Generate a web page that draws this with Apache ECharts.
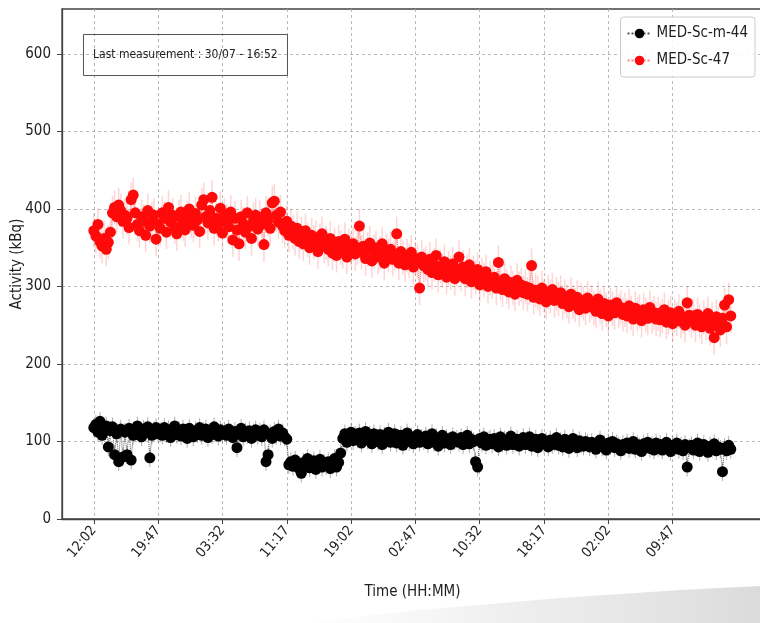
<!DOCTYPE html>
<html>
<head>
<meta charset="utf-8">
<script src="https://cdn.jsdelivr.net/npm/echarts@6/dist/echarts.min.js"></script>
<style>
  html, body { margin: 0; padding: 0; background: #ffffff; }
  #chart { width: 760px; height: 623px; }
</style>
</head>
<body>
<div id="chart"></div>
<script>
// Readings are taken every 15 minutes from 12:02 onwards (x = minutes since first reading)
const stepMinutes = 15;
const tickEveryMinutes = 465;
const tickLabels = ['12:02', '19:47', '03:32', '11:17', '19:02', '02:47', '10:32', '18:17', '02:02', '09:47'];
const yTicks = [0, 100, 200, 300, 400, 500, 600];
const lastMeasurement = 'Last measurement : 30/07 - 16:52';

// MED-Sc-47 activity (kBq), 16 readings per 4-hour row
const sc47 = [
  372, 365, 380, 358, 352, 362, 348, 357, 370, 395, 402, 390, 405, 398, 384, 392,
  388, 376, 412, 418, 395, 380, 372, 390, 384, 366, 398, 378, 387, 392, 361, 380,
  375, 395, 388, 370, 402, 383, 392, 377, 368, 390, 396, 381, 373, 389, 400, 385,
  379, 394, 386, 371, 405, 412, 390, 382, 398, 415, 375, 388, 380, 401, 369, 392,
  384, 377, 396, 360, 388, 373, 355, 390, 381, 370, 395, 378, 362, 386, 392, 374,
  389, 380, 354, 395, 386, 375, 408, 410, 392, 383, 396, 378, 372, 384, 366, 378,
  370, 362, 375, 358, 368, 355, 372, 360, 350, 366, 357, 363, 345, 359, 368, 352,
  356, 348, 362, 343, 354, 340, 358, 350, 345, 361, 338, 352, 347, 355, 342, 350,
  378, 344, 352, 336, 348, 356, 333, 345, 350, 338, 343, 355, 330, 346, 340, 348,
  335, 342, 368, 330, 345, 337, 328, 340, 333, 344, 325, 336, 332, 298, 338, 327,
  330, 322, 335, 318, 328, 340, 315, 326, 320, 332, 312, 324, 318, 329, 310, 322,
  338, 316, 325, 310, 320, 328, 306, 318, 312, 322, 302, 315, 308, 319, 300, 311,
  306, 312, 298, 331, 304, 296, 310, 300, 293, 305, 298, 290, 308, 297, 302, 292,
  300, 290, 298, 327, 286, 295, 292, 284, 298, 288, 280, 293, 287, 296, 282, 290,
  284, 292, 278, 287, 281, 274, 290, 280, 276, 286, 270, 282, 278, 272, 285, 275,
  280, 272, 268, 284, 274, 265, 278, 270, 262, 276, 271, 266, 279, 268, 273, 264,
  270, 262, 275, 266, 258, 272, 264, 268, 256, 270, 263, 259, 273, 261, 266, 258,
  265, 257, 262, 270, 254, 260, 266, 252, 262, 258, 268, 255, 261, 250, 279, 263,
  256, 262, 250, 264, 255, 248, 260, 253, 265, 246, 258, 234, 261, 252, 244, 259,
  276, 248, 283, 262
];

// MED-Sc-m-44 activity (kBq), same timestamps
const scm44 = [
  118, 122, 112, 126, 108, 115, 120,  93, 114, 119,  83, 110,  74, 116,  80, 112,
   83, 117,  76, 108, 114, 120, 110, 106, 116, 112, 119,  79, 108, 114, 118, 110,
  113, 108, 118, 110, 115, 105, 112, 120, 109, 114, 107, 116, 111, 104, 117, 112,
  106, 114, 110, 118, 108, 113, 116, 105, 112, 109, 119, 111, 107, 115, 110, 113,
  108, 116, 111, 105, 113,  92, 110, 117, 106, 112, 109, 114, 104, 111, 115, 108,
  112, 106, 115,  74,  83, 110, 104, 113, 108, 116, 107, 111, 106, 103,  70,  74,
   68,  76,  71,  65,  59,  73,  69,  78,  66,  72,  75,  64,  70,  77,  67,  72,
   69,  74,  65,  71,  78,  67,  73,  85, 104, 110,  99, 107, 112, 101, 108, 104,
  111,  98, 106, 113, 102, 108,  97, 110, 104, 100, 109,  96, 107, 103, 112,  99,
  105, 110,  98, 104, 108,  95, 102, 111, 100, 106,  97, 103, 109,  99, 104, 101,
  107,  97, 103, 110,  99, 105,  94, 102, 108,  98, 104, 100,  96, 106, 101, 103,
   99, 105,  96, 102, 108,  97, 103, 100,  74,  67, 104,  98, 106,  95, 101, 103,
   97, 104, 100,  93, 106,  98, 102,  95, 101, 107,  96,  99, 103,  94, 100, 105,
   96, 101, 106,  94,  99, 103,  92,  98, 104,  97, 100,  93, 102,  96,  99, 105,
   95, 100,  93, 103,  97,  91,  99, 104,  96,  92, 101,  97,  94, 100,  98,  93,
   99,  94,  90,  97, 102,  93,  96,  89,  98,  95, 100,  92,  97,  94,  88,  96,
   93,  98,  91,  95, 100,  90,  96,  93,  87,  97,  94,  99,  91,  95,  89,  98,
   92,  96,  89,  94,  99,  91,  87,  95,  93,  98,  90,  94,  88,  96,  67,  92,
   95,  89,  93,  98,  87,  92,  96,  90,  86,  94,  91,  97,  88,  93,  90,  61,
   92,  88,  95,  90
];

// Measurement uncertainty (kBq) shown as vertical bars
const sc47Err = 22;
const scm44Err = 12;

const FONT = "'DejaVu Sans Condensed', 'Liberation Sans Narrow', 'DejaVu Sans', sans-serif";

const toPoints = (vals) => vals.map((v, i) => [i * stepMinutes, v]);
const toErrPoints = (vals, e) => vals.map((v, i) => [i * stepMinutes, v, e]);

const xTickValues = tickLabels.map((_, i) => i * tickEveryMinutes);

function errorBars(color, width) {
  return function (params, api) {
    const x = api.value(0), y = api.value(1), e = api.value(2);
    const hi = api.coord([x, y + e]);
    const lo = api.coord([x, y - e]);
    return {
      type: 'line',
      shape: { x1: hi[0], y1: hi[1], x2: lo[0], y2: lo[1] },
      style: { stroke: color, lineWidth: width }
    };
  };
}

const chart = echarts.init(document.getElementById('chart'), null, { renderer: 'canvas' });

chart.setOption({
  animation: false,
  backgroundColor: '#ffffff',
  textStyle: { fontFamily: FONT },
  title: {
    text: lastMeasurement,
    left: 83,
    top: 34,
    padding: [15, 10, 15, 10],
    borderColor: '#555555',
    borderWidth: 1,
    textStyle: { fontFamily: FONT, fontSize: 12, fontWeight: 'normal', color: '#222222' }
  },
  legend: {
    orient: 'vertical',
    right: 5,
    top: 17,
    padding: [9, 7, 9, 6],
    itemGap: 12,
    itemWidth: 24,
    itemHeight: 12,
    backgroundColor: 'rgba(255,255,255,0.85)',
    borderColor: '#cccccc',
    borderWidth: 1,
    borderRadius: 3,
    textStyle: { fontFamily: FONT, fontSize: 15, color: '#222222' },
    data: ['MED-Sc-m-44', 'MED-Sc-47']
  },
  grid: {
    left: 62,
    right: -3,
    top: 9,
    bottom: 104,
    show: true,
    borderColor: '#444444',
    borderWidth: 1.3,
    containLabel: false,
    outerBoundsMode: 'none'
  },
  xAxis: {
    type: 'value',
    min: -230,
    max: 4838,
    name: 'Time (HH:MM)',
    nameLocation: 'middle',
    nameGap: 66,
    nameMoveOverlap: false,
    nameTextStyle: { fontFamily: FONT, fontSize: 15, color: '#222222' },
    axisLine: { show: true, onZero: false, lineStyle: { color: '#444444', width: 1.3 } },
    axisTick: { show: true, length: 5, customValues: xTickValues, lineStyle: { color: '#444444' } },
    axisLabel: {
      customValues: xTickValues,
      rotate: 50,
      margin: 9,
      fontFamily: FONT,
      fontSize: 14,
      color: '#222222',
      formatter: (v) => tickLabels[Math.round(v / tickEveryMinutes)]
    },
    splitLine: { show: true, lineStyle: { color: '#b0b0b0', type: [3, 3], width: 0.9 } }
  },
  yAxis: {
    type: 'value',
    min: 0,
    max: 658,
    name: 'Activity (kBq)',
    nameLocation: 'middle',
    nameGap: 37,
    nameMoveOverlap: false,
    nameTextStyle: { fontFamily: FONT, fontSize: 15, color: '#222222' },
    axisLine: { show: true, onZero: false, lineStyle: { color: '#444444', width: 1.3 } },
    axisTick: { show: true, length: 5, customValues: yTicks, lineStyle: { color: '#444444' } },
    axisLabel: {
      customValues: yTicks,
      margin: 11,
      fontFamily: FONT,
      fontSize: 15,
      color: '#222222'
    },
    splitLine: { show: true, lineStyle: { color: '#b0b0b0', type: [3, 3], width: 0.9 } }
  },
  series: [
    {
      type: 'custom',
      silent: true,
      z: 1,
      renderItem: errorBars('rgba(120,120,120,0.6)', 1),
      encode: { x: 0, y: 1 },
      data: toErrPoints(scm44, scm44Err)
    },
    {
      type: 'custom',
      silent: true,
      z: 1,
      renderItem: errorBars('rgba(255,60,60,0.22)', 1.5),
      encode: { x: 0, y: 1 },
      data: toErrPoints(sc47, sc47Err)
    },
    {
      name: 'MED-Sc-m-44',
      type: 'line',
      z: 3,
      symbol: 'circle',
      symbolSize: 11,
      showSymbol: true,
      itemStyle: { color: '#000000' },
      lineStyle: { type: 'dotted', width: 1, color: '#555555' },
      data: toPoints(scm44)
    },
    {
      name: 'MED-Sc-47',
      type: 'line',
      z: 3,
      symbol: 'circle',
      symbolSize: 11,
      showSymbol: true,
      itemStyle: { color: '#ff0a0a' },
      lineStyle: { type: 'dotted', width: 1, color: 'rgba(255,40,40,0.6)' },
      data: toPoints(sc47)
    }
  ],
  graphic: [
    {
      // soft grey shading along the lower right edge of the page
      type: 'polygon',
      silent: true,
      z: -1,
      shape: { points: [[300, 623], [420, 610], [560, 598], [680, 590], [760, 586], [760, 623]] },
      style: {
        fill: new echarts.graphic.LinearGradient(0, 0, 1, 0, [
          { offset: 0, color: 'rgba(235,235,235,0)' },
          { offset: 0.45, color: 'rgba(228,228,228,0.6)' },
          { offset: 1, color: 'rgba(215,215,215,0.9)' }
        ])
      }
    }
  ]
});
</script>
</body>
</html>
